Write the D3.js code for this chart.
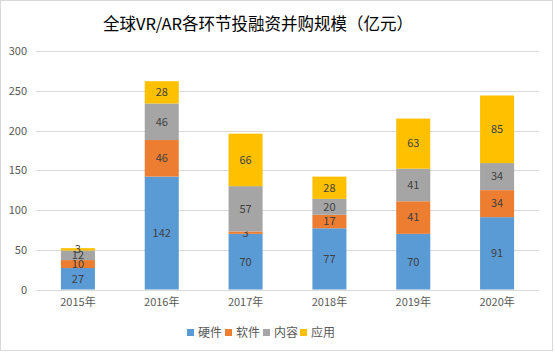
<!DOCTYPE html>
<html>
<head>
<meta charset="utf-8">
<script src="https://cdn.jsdelivr.net/npm/d3@7"></script>
<style>
  body { margin: 0; background: #fff; }
  svg text { font-family: "Noto Sans CJK SC", "Liberation Sans", sans-serif; }
</style>
</head>
<body>
<div id="chart"></div>
<script>
const years = ['2015年', '2016年', '2017年', '2018年', '2019年', '2020年'];
const seriesNames = ['硬件', '软件', '内容', '应用'];
const hardware = [27, 142, 70, 77, 70, 91];
const software = [10, 46, 3, 17, 41, 34];
const content = [12, 46, 57, 20, 41, 34];
const application = [3, 28, 66, 28, 63, 85];
const yTicks = [0, 50, 100, 150, 200, 250, 300];
const colors = ['#5b9bd5', '#ed7d31', '#a5a5a5', '#ffc000'];

const width = 555, height = 353;
const margin = { top: 51, right: 16, bottom: 63.5, left: 36 };

const svg = d3.select('#chart').append('svg')
    .attr('width', width)
    .attr('height', height);

// outer border
svg.append('rect')
    .attr('x', 0.5).attr('y', 0.5)
    .attr('width', width - 3).attr('height', height - 3)
    .attr('fill', '#fff')
    .attr('stroke', '#d9d9d9');

svg.append('text')
    .attr('x', 258).attr('y', 30)
    .attr('text-anchor', 'middle')
    .attr('font-size', 16.5)
    .attr('fill', '#000')
    .text('全球VR/AR各环节投融资并购规模（亿元）');

const chartWidth = width - margin.left - margin.right;
const chartHeight = height - margin.top - margin.bottom;

const g = svg.append('g')
    .attr('transform', `translate(${margin.left},${margin.top})`);

const data = years.map((y, i) => ({
    year: y,
    硬件: hardware[i], 软件: software[i], 内容: content[i], 应用: application[i]
}));

const stacked = d3.stack().keys(seriesNames)(data);

const xScale = d3.scaleBand()
    .domain(years)
    .range([0, chartWidth])
    .paddingInner(0.594)
    .paddingOuter(0.297);

const yScale = d3.scaleLinear()
    .domain([0, 300])
    .range([chartHeight, 0]);

// gridlines
g.append('g')
    .selectAll('line')
    .data(yTicks)
    .join('line')
    .attr('x1', 0).attr('x2', chartWidth)
    .attr('y1', d => Math.round(yScale(d)) + 0.5)
    .attr('y2', d => Math.round(yScale(d)) + 0.5)
    .attr('stroke', '#d9d9d9');

// y axis labels
const yAxis = d3.axisLeft(yScale).tickValues(yTicks).tickSize(0).tickPadding(9);
g.append('g')
    .call(yAxis)
    .call(s => s.select('.domain').remove())
    .selectAll('text')
    .attr('font-size', 11)
    .attr('fill', '#595959');

// x axis labels
const xAxis = d3.axisBottom(xScale).tickSize(0).tickPadding(9);
g.append('g')
    .attr('transform', `translate(0,${chartHeight})`)
    .call(xAxis)
    .call(s => s.select('.domain').remove())
    .selectAll('text')
    .attr('font-size', 11)
    .attr('fill', '#595959');

// bars
const layers = g.selectAll('.layer')
    .data(stacked)
    .join('g')
    .attr('fill', (d, i) => colors[i]);

layers.selectAll('rect')
    .data(d => d)
    .join('rect')
    .attr('x', d => xScale(d.data.year))
    .attr('y', d => yScale(d[1]))
    .attr('width', xScale.bandwidth())
    .attr('height', d => yScale(d[0]) - yScale(d[1]));

// data labels
layers.selectAll('text')
    .data(d => d)
    .join('text')
    .attr('x', d => xScale(d.data.year) + xScale.bandwidth() / 2)
    .attr('y', d => yScale((d[0] + d[1]) / 2))
    .attr('dy', '0.35em')
    .attr('text-anchor', 'middle')
    .attr('font-size', 11)
    .attr('fill', '#404040')
    .text(d => d[1] - d[0]);

// legend
const legendX = [187, 225, 263, 300];
const legend = svg.append('g')
    .selectAll('g')
    .data(seriesNames)
    .join('g')
    .attr('transform', (d, i) => `translate(${legendX[i]},333)`);

legend.append('rect')
    .attr('x', 0).attr('y', -4)
    .attr('width', 7).attr('height', 7)
    .attr('fill', (d, i) => colors[i]);

legend.append('text')
    .attr('x', 11).attr('y', 0)
    .attr('dy', '0.35em')
    .attr('font-size', 12)
    .attr('fill', '#595959')
    .text(d => d);
</script>
</body>
</html>
